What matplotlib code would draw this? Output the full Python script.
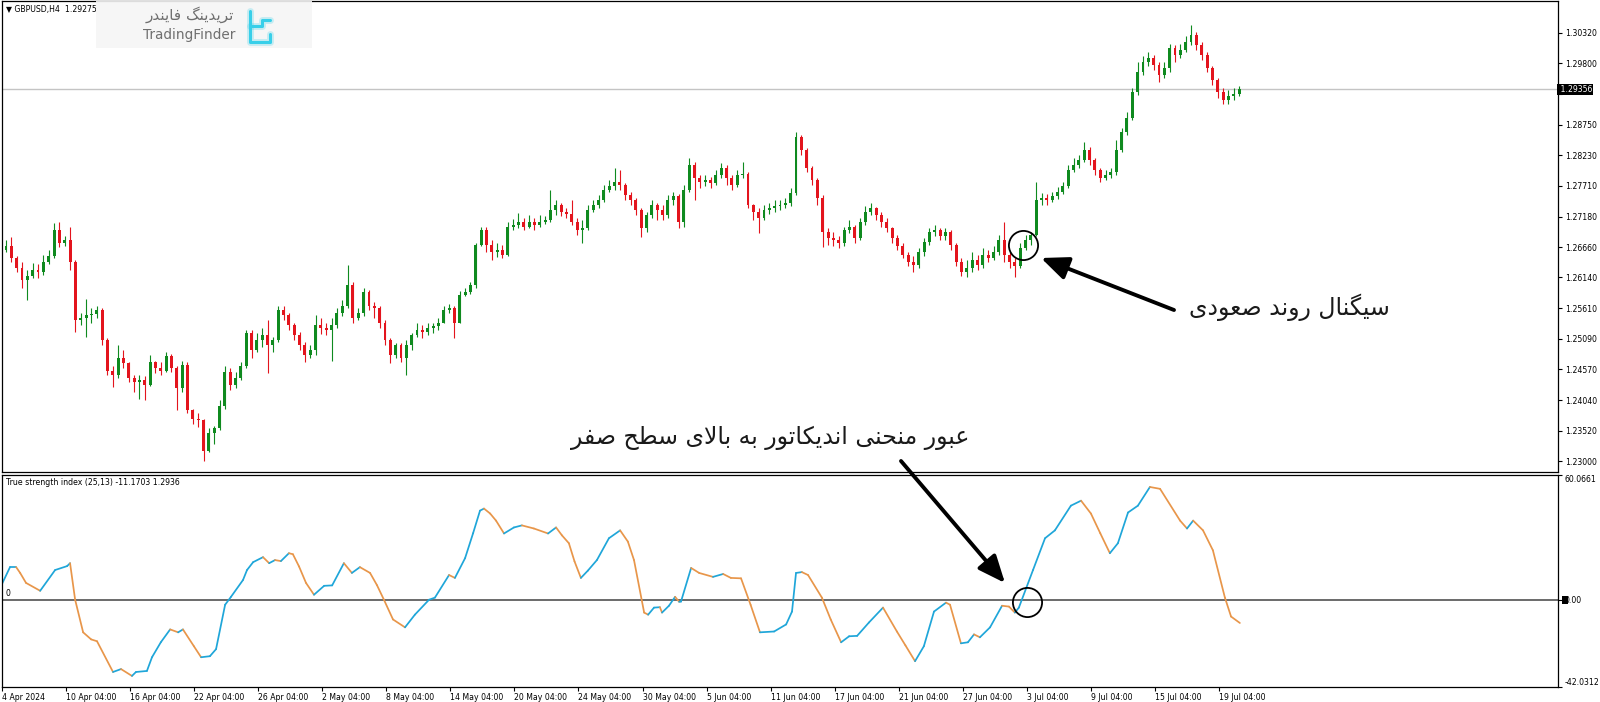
import numpy as np
import matplotlib
matplotlib.use("Agg")
import matplotlib.pyplot as plt
from matplotlib.collections import LineCollection
from matplotlib.patches import FancyArrowPatch, Rectangle
import matplotlib.transforms as mtrans

plt.rcParams['font.family'] = ['DejaVu Sans']

# ---- GBPUSD H4 (one candle = two H4 bars) ----
opens = [1.2650, 1.2661, 1.2667, 1.2647, 1.2630, 1.2609, 1.2616, 1.2626, 1.2623, 1.2640,
         1.2650, 1.2695, 1.2673, 1.2678, 1.2640, 1.2541, 1.2544, 1.2549, 1.2551, 1.2558,
         1.2507, 1.2455, 1.2447, 1.2476, 1.2467, 1.2442, 1.2435, 1.2438, 1.2431, 1.2469,
         1.2459, 1.2455, 1.2479, 1.2459, 1.2425, 1.2464, 1.2387, 1.2373, 1.2370, 1.2318,
         1.2349, 1.2356, 1.2395, 1.2452, 1.2430, 1.2442, 1.2462, 1.2519, 1.2490, 1.2507,
         1.2515, 1.2498, 1.2507, 1.2558, 1.2549, 1.2532, 1.2515, 1.2498, 1.2481, 1.2490,
         1.2532, 1.2527, 1.2524, 1.2532, 1.2554, 1.2566, 1.2601, 1.2544, 1.2554, 1.2589,
         1.2566, 1.2561, 1.2537, 1.2507, 1.2481, 1.2498, 1.2476, 1.2498, 1.2515, 1.2524,
         1.2520, 1.2527, 1.2531, 1.2537, 1.2558, 1.2561, 1.2537, 1.2584, 1.2589, 1.2601,
         1.2669, 1.2695, 1.2669, 1.2657, 1.2661, 1.2652, 1.2701, 1.2703, 1.2708, 1.2701,
         1.2708, 1.2703, 1.2708, 1.2712, 1.2729, 1.2737, 1.2725, 1.2722, 1.2708, 1.2695,
         1.2698, 1.2729, 1.2737, 1.2746, 1.2763, 1.2770, 1.2777, 1.2772, 1.2755, 1.2746,
         1.2729, 1.2698, 1.2720, 1.2737, 1.2729, 1.2720, 1.2746, 1.2753, 1.2708, 1.2763,
         1.2806, 1.2784, 1.2777, 1.2780, 1.2775, 1.2789, 1.2801, 1.2784, 1.2772, 1.2789,
         1.2790, 1.2737, 1.2725, 1.2715, 1.2729, 1.2732, 1.2736, 1.2737, 1.2741, 1.2758,
         1.2854, 1.2832, 1.2801, 1.2780, 1.2749, 1.2691, 1.2681, 1.2678, 1.2673, 1.2695,
         1.2701, 1.2681, 1.2708, 1.2725, 1.2732, 1.2720, 1.2708, 1.2698, 1.2681, 1.2667,
         1.2652, 1.2640, 1.2635, 1.2657, 1.2674, 1.2691, 1.2695, 1.2684, 1.2691, 1.2669,
         1.2640, 1.2623, 1.2630, 1.2643, 1.2635, 1.2652, 1.2647, 1.2657, 1.2678, 1.2652,
         1.2640, 1.2633, 1.2664, 1.2678, 1.2686, 1.2746, 1.2749, 1.2746, 1.2753, 1.2760,
         1.2770, 1.2797, 1.2806, 1.2815, 1.2832, 1.2815, 1.2797, 1.2784, 1.2789, 1.2794,
         1.2832, 1.2862, 1.2886, 1.2931, 1.2965, 1.2982, 1.2989, 1.2977, 1.2960, 1.2972,
         1.3006, 1.2994, 1.3003, 1.3016, 1.3028, 1.3011, 1.2994, 1.2972, 1.2951, 1.2931,
         1.2917, 1.2924, 1.2927]
highs = [1.2669, 1.2678, 1.2683, 1.2650, 1.2640, 1.2626, 1.2638, 1.2637, 1.2652, 1.2661,
         1.2707, 1.2708, 1.2684, 1.2701, 1.2643, 1.2554, 1.2578, 1.2561, 1.2566, 1.2561,
         1.2510, 1.2462, 1.2498, 1.2490, 1.2469, 1.2447, 1.2448, 1.2445, 1.2481, 1.2472,
         1.2469, 1.2486, 1.2483, 1.2462, 1.2472, 1.2469, 1.2390, 1.2383, 1.2373, 1.2356,
         1.2361, 1.2404, 1.2462, 1.2459, 1.2452, 1.2469, 1.2524, 1.2524, 1.2519, 1.2527,
         1.2541, 1.2513, 1.2566, 1.2566, 1.2554, 1.2537, 1.2520, 1.2503, 1.2498, 1.2549,
         1.2544, 1.2537, 1.2544, 1.2561, 1.2575, 1.2635, 1.2606, 1.2561, 1.2596, 1.2592,
         1.2572, 1.2566, 1.2541, 1.2510, 1.2502, 1.2502, 1.2507, 1.2519, 1.2536, 1.2532,
         1.2537, 1.2537, 1.2544, 1.2566, 1.2568, 1.2565, 1.2590, 1.2596, 1.2606, 1.2673,
         1.2701, 1.2700, 1.2678, 1.2673, 1.2669, 1.2708, 1.2713, 1.2724, 1.2715, 1.2720,
         1.2715, 1.2720, 1.2719, 1.2763, 1.2746, 1.2741, 1.2732, 1.2746, 1.2715, 1.2712,
         1.2737, 1.2746, 1.2755, 1.2772, 1.2780, 1.2801, 1.2797, 1.2775, 1.2760, 1.2749,
         1.2732, 1.2725, 1.2746, 1.2741, 1.2737, 1.2755, 1.2760, 1.2756, 1.2772, 1.2818,
         1.2811, 1.2789, 1.2789, 1.2785, 1.2797, 1.2809, 1.2806, 1.2789, 1.2797, 1.2811,
         1.2794, 1.2739, 1.2732, 1.2737, 1.2741, 1.2746, 1.2746, 1.2749, 1.2767, 1.2862,
         1.2857, 1.2835, 1.2804, 1.2784, 1.2755, 1.2698, 1.2691, 1.2684, 1.2701, 1.2712,
         1.2703, 1.2715, 1.2736, 1.2741, 1.2734, 1.2725, 1.2715, 1.2701, 1.2686, 1.2673,
         1.2657, 1.2650, 1.2664, 1.2681, 1.2698, 1.2703, 1.2698, 1.2698, 1.2695, 1.2673,
         1.2647, 1.2643, 1.2657, 1.2652, 1.2664, 1.2661, 1.2667, 1.2686, 1.2708, 1.2657,
         1.2647, 1.2673, 1.2686, 1.2691, 1.2777, 1.2758, 1.2756, 1.2760, 1.2768, 1.2777,
         1.2806, 1.2818, 1.2823, 1.2845, 1.2837, 1.2818, 1.2801, 1.2797, 1.2801, 1.2849,
         1.2869, 1.2896, 1.2938, 1.2982, 1.2992, 1.2999, 1.2994, 1.2982, 1.2982, 1.3013,
         1.3011, 1.3013, 1.3026, 1.3045, 1.3033, 1.3016, 1.2999, 1.2975, 1.2955, 1.2938,
         1.2934, 1.2938, 1.2941]
lows = [1.2647, 1.2657, 1.2640, 1.2623, 1.2596, 1.2575, 1.2613, 1.2613, 1.2619, 1.2637,
        1.2647, 1.2666, 1.2667, 1.2626, 1.2520, 1.2532, 1.2512, 1.2537, 1.2544, 1.2498,
        1.2448, 1.2426, 1.2442, 1.2459, 1.2435, 1.2418, 1.2407, 1.2404, 1.2428, 1.2450,
        1.2447, 1.2452, 1.2452, 1.2387, 1.2418, 1.2382, 1.2363, 1.2359, 1.2301, 1.2315,
        1.2330, 1.2353, 1.2390, 1.2421, 1.2425, 1.2438, 1.2459, 1.2476, 1.2486, 1.2495,
        1.2450, 1.2486, 1.2503, 1.2541, 1.2524, 1.2507, 1.2490, 1.2469, 1.2476, 1.2481,
        1.2517, 1.2515, 1.2472, 1.2527, 1.2548, 1.2561, 1.2537, 1.2541, 1.2548, 1.2558,
        1.2544, 1.2527, 1.2498, 1.2467, 1.2476, 1.2469, 1.2447, 1.2490, 1.2512, 1.2510,
        1.2515, 1.2519, 1.2524, 1.2536, 1.2553, 1.2510, 1.2536, 1.2582, 1.2585, 1.2596,
        1.2667, 1.2657, 1.2643, 1.2649, 1.2647, 1.2650, 1.2695, 1.2698, 1.2695, 1.2698,
        1.2695, 1.2700, 1.2705, 1.2708, 1.2720, 1.2719, 1.2715, 1.2703, 1.2686, 1.2673,
        1.2695, 1.2725, 1.2732, 1.2743, 1.2760, 1.2763, 1.2763, 1.2746, 1.2737, 1.2720,
        1.2683, 1.2691, 1.2715, 1.2712, 1.2712, 1.2715, 1.2737, 1.2698, 1.2701, 1.2760,
        1.2746, 1.2767, 1.2770, 1.2767, 1.2772, 1.2784, 1.2772, 1.2763, 1.2768, 1.2784,
        1.2732, 1.2712, 1.2690, 1.2712, 1.2722, 1.2725, 1.2729, 1.2732, 1.2736, 1.2755,
        1.2823, 1.2794, 1.2772, 1.2737, 1.2666, 1.2669, 1.2667, 1.2664, 1.2667, 1.2690,
        1.2673, 1.2678, 1.2703, 1.2720, 1.2712, 1.2701, 1.2691, 1.2673, 1.2661, 1.2647,
        1.2633, 1.2623, 1.2630, 1.2650, 1.2669, 1.2684, 1.2678, 1.2678, 1.2661, 1.2633,
        1.2616, 1.2614, 1.2623, 1.2626, 1.2630, 1.2640, 1.2643, 1.2652, 1.2640, 1.2630,
        1.2614, 1.2630, 1.2661, 1.2669, 1.2684, 1.2737, 1.2737, 1.2743, 1.2748, 1.2756,
        1.2767, 1.2794, 1.2801, 1.2811, 1.2806, 1.2789, 1.2777, 1.2780, 1.2784, 1.2789,
        1.2828, 1.2857, 1.2883, 1.2926, 1.2960, 1.2975, 1.2968, 1.2948, 1.2955, 1.2965,
        1.2982, 1.2989, 1.2999, 1.3011, 1.3003, 1.2985, 1.2965, 1.2943, 1.2920, 1.2910,
        1.2910, 1.2917, 1.2924]
closes = [1.2661, 1.2667, 1.2647, 1.2630, 1.2609, 1.2616, 1.2626, 1.2623, 1.2640, 1.2650,
          1.2695, 1.2673, 1.2678, 1.2640, 1.2541, 1.2544, 1.2549, 1.2551, 1.2558, 1.2507,
          1.2455, 1.2447, 1.2476, 1.2467, 1.2442, 1.2435, 1.2438, 1.2431, 1.2469, 1.2459,
          1.2455, 1.2479, 1.2459, 1.2425, 1.2464, 1.2387, 1.2373, 1.2370, 1.2318, 1.2349,
          1.2356, 1.2395, 1.2452, 1.2430, 1.2442, 1.2462, 1.2519, 1.2490, 1.2507, 1.2515,
          1.2498, 1.2507, 1.2558, 1.2549, 1.2532, 1.2515, 1.2498, 1.2481, 1.2490, 1.2532,
          1.2527, 1.2524, 1.2532, 1.2554, 1.2566, 1.2601, 1.2544, 1.2554, 1.2589, 1.2566,
          1.2561, 1.2537, 1.2507, 1.2481, 1.2498, 1.2476, 1.2498, 1.2515, 1.2524, 1.2520,
          1.2527, 1.2531, 1.2537, 1.2558, 1.2561, 1.2537, 1.2584, 1.2589, 1.2601, 1.2669,
          1.2695, 1.2669, 1.2657, 1.2661, 1.2652, 1.2701, 1.2703, 1.2708, 1.2701, 1.2708,
          1.2703, 1.2708, 1.2712, 1.2729, 1.2737, 1.2725, 1.2722, 1.2708, 1.2695, 1.2698,
          1.2729, 1.2737, 1.2746, 1.2763, 1.2770, 1.2777, 1.2772, 1.2755, 1.2746, 1.2729,
          1.2698, 1.2720, 1.2737, 1.2729, 1.2720, 1.2746, 1.2753, 1.2708, 1.2763, 1.2806,
          1.2784, 1.2777, 1.2780, 1.2775, 1.2789, 1.2801, 1.2784, 1.2772, 1.2789, 1.2790,
          1.2737, 1.2725, 1.2715, 1.2729, 1.2732, 1.2736, 1.2737, 1.2741, 1.2758, 1.2854,
          1.2832, 1.2801, 1.2780, 1.2749, 1.2691, 1.2681, 1.2678, 1.2673, 1.2695, 1.2701,
          1.2681, 1.2708, 1.2725, 1.2732, 1.2720, 1.2708, 1.2698, 1.2681, 1.2667, 1.2652,
          1.2640, 1.2635, 1.2657, 1.2674, 1.2691, 1.2695, 1.2684, 1.2691, 1.2669, 1.2640,
          1.2623, 1.2630, 1.2643, 1.2635, 1.2652, 1.2647, 1.2657, 1.2678, 1.2652, 1.2640,
          1.2633, 1.2664, 1.2678, 1.2686, 1.2746, 1.2749, 1.2746, 1.2753, 1.2760, 1.2770,
          1.2797, 1.2806, 1.2815, 1.2832, 1.2815, 1.2797, 1.2784, 1.2789, 1.2794, 1.2832,
          1.2862, 1.2886, 1.2931, 1.2965, 1.2982, 1.2989, 1.2977, 1.2960, 1.2972, 1.3006,
          1.2994, 1.3003, 1.3016, 1.3028, 1.3011, 1.2994, 1.2972, 1.2951, 1.2931, 1.2917,
          1.2924, 1.2927, 1.2936]

# True strength index (25,13): H4 bar number -> value
tsi_bar = [0.3, 4.0, 6.3, 7.8, 10.0, 15.3, 20.9, 25.4, 26.5, 28.4, 31.4, 34.4, 36.6, 42.6,
           45.6, 49.7, 51.2, 55.3, 57.2, 60.5, 64.0, 67.0, 68.8, 72.9, 75.6, 78.9, 81.2, 84.6,
           86.8, 91.3, 92.8, 95.1, 98.8, 101.1, 103.3, 105.5, 108.5, 110.0, 112.3, 114.9,
           117.9, 121.7, 124.7, 129.1, 132.1, 135.1, 138.9, 141.5, 144.1, 147.5, 152.0, 155.7,
           161.0, 163.2, 168.5, 170.7, 174.5, 177.5, 180.1, 181.6, 183.9, 186.1, 189.1, 192.8,
           195.8, 200.3, 205.6, 208.6, 210.8, 213.4, 215.5, 217.9, 220.5, 223.9, 228.4, 232.6,
           235.5, 237.8, 241.6, 243.1, 245.3, 247.5, 248.3, 250.9, 253.2, 254.7, 255.4, 259.2,
           262.2, 267.4, 271.2, 274.1, 277.9, 281.5, 285.0, 290.3, 294.8, 297.0, 298.5, 300.7,
           303.0, 308.2, 311.5, 315.4, 318.4, 321.4, 325.8, 331.1, 336.3, 339.5, 343.1, 346.4,
           350.2, 354.7, 356.2, 360.3, 362.9, 365.2, 367.4, 371.2, 375.7, 378.3, 380.5, 382.0,
           387.3, 391.8, 395.5, 401.5, 405.3, 409.0, 412.5, 416.1, 419.1, 422.9, 426.6, 431.1,
           434.9, 442.4, 445.0, 447.3, 451.0, 454.7, 459.2, 461.5, 464.8]
tsi_val = [5.7, 15.7, 15.7, 12.9, 8.1, 4.3, 14.3, 16.2, 17.6, 0.0, -15.7, -19.1, -20.0, -34.8,
           -33.4, -36.7, -34.8, -34.3, -27.7, -20.5, -14.3, -15.7, -14.3, -22.4, -27.7, -27.2,
           -23.8, -2.4, 1.4, 9.5, 14.3, 18.1, 20.5, 17.6, 19.1, 18.6, 22.4, 21.9, 16.0, 8.1,
           2.4, 6.7, 6.9, 17.6, 12.9, 15.7, 12.9, 7.0, 0.0, -9.5, -13.3, -7.2, 0.0, 1.0, 11.9,
           10.5, 20.0, 32.0, 42.9, 43.9, 41.5, 38.1, 31.9, 34.8, 35.8, 34.3, 31.9, 34.8, 31.0,
           27.2, 18.5, 10.5, 14.0, 19.1, 29.6, 33.4, 28.0, 19.1, -6.2, -7.2, -3.8, -3.6, -6.2,
           -2.9, 1.4, -1.0, -0.9, 15.3, 12.9, 11.0, 12.4, 10.5, 10.3, -2.5, -15.7, -15.3,
           -11.9, -5.7, 12.9, 13.3, 11.9, 1.0, -9.5, -20.5, -17.6, -17.4, -11.0, -3.8, -15.3,
           -22.0, -29.6, -22.4, -5.7, -1.4, -2.4, -21.0, -20.5, -16.7, -18.1, -13.3, -2.9,
           -3.3, -6.2, -3.8, 14.3, 29.6, 33.4, 45.3, 47.7, 41.5, 32.0, 22.4, 27.2, 42.0, 45.3,
           54.3, 53.4, 38.1, 34.3, 38.1, 33.4, 23.8, 1.0, -8.1, -11.2]

price_ticks = [1.30320, 1.29800, 1.29280, 1.28750, 1.28230, 1.27710, 1.27180, 1.26660,
               1.26140, 1.25610, 1.25090, 1.24570, 1.24040, 1.23520, 1.23000]
last_price = 1.29356
date_bars = [1, 25, 49, 73, 97, 121, 145, 169, 193, 217, 241, 265, 289, 313, 337, 361,
             385, 409, 433, 457]
date_labels = ["4 Apr 2024", "10 Apr 04:00", "16 Apr 04:00", "22 Apr 04:00", "26 Apr 04:00",
               "2 May 04:00", "8 May 04:00", "14 May 04:00", "20 May 04:00", "24 May 04:00",
               "30 May 04:00", "5 Jun 04:00", "11 Jun 04:00", "17 Jun 04:00", "21 Jun 04:00",
               "27 Jun 04:00", "3 Jul 04:00", "9 Jul 04:00", "15 Jul 04:00", "19 Jul 04:00"]
assert len(opens) == len(highs) == len(lows) == len(closes)
assert len(tsi_bar) == len(tsi_val)

# ---- minimal Persian shaping (matplotlib has no bidi / joining) ----
FORMS = {
    'ا': ('\uFE8D', '\uFE8E', None, None), 'ب': ('\uFE8F', '\uFE90', '\uFE91', '\uFE92'),
    'ت': ('\uFE95', '\uFE96', '\uFE97', '\uFE98'), 'ح': ('\uFEA1', '\uFEA2', '\uFEA3', '\uFEA4'),
    'د': ('\uFEA9', '\uFEAA', None, None), 'ر': ('\uFEAD', '\uFEAE', None, None),
    'س': ('\uFEB1', '\uFEB2', '\uFEB3', '\uFEB4'), 'ص': ('\uFEB9', '\uFEBA', '\uFEBB', '\uFEBC'),
    'ط': ('\uFEC1', '\uFEC2', '\uFEC3', '\uFEC4'), 'ع': ('\uFEC9', '\uFECA', '\uFECB', '\uFECC'),
    'ف': ('\uFED1', '\uFED2', '\uFED3', '\uFED4'), 'ل': ('\uFEDD', '\uFEDE', '\uFEDF', '\uFEE0'),
    'م': ('\uFEE1', '\uFEE2', '\uFEE3', '\uFEE4'), 'ن': ('\uFEE5', '\uFEE6', '\uFEE7', '\uFEE8'),
    'ه': ('\uFEE9', '\uFEEA', '\uFEEB', '\uFEEC'), 'و': ('\uFEED', '\uFEEE', None, None),
    '\u06A9': ('\uFB8E', '\uFB8F', '\uFB90', '\uFB91'), '\u06AF': ('\uFB92', '\uFB93', '\uFB94', '\uFB95'),
    '\u06CC': ('\uFBFC', '\uFBFD', '\uFBFE', '\uFBFF'),
}
FORMS['\u0643'] = FORMS['\u06A9']; FORMS['\u064A'] = FORMS['\u06CC']

def dual(ch): return ch in FORMS and FORMS[ch][2] is not None

def shape(txt):
    out = []; i = 0
    while i < len(txt):
        ch = txt[i]
        if ch not in FORMS:
            out.append(ch); i += 1; continue
        prev = i > 0 and dual(txt[i-1])
        nxt = i+1 < len(txt) and txt[i+1] in FORMS
        if ch == 'ل' and i+1 < len(txt) and txt[i+1] == 'ا':
            out.append('\uFEFC' if prev else '\uFEFB'); i += 2; continue
        iso, fin, ini, med = FORMS[ch]
        if dual(ch) and nxt:
            out.append(med if prev else ini)
        else:
            out.append(fin if prev else iso)
        i += 1
    return ''.join(reversed(out))

# ---- figure ----
W, H = 1600, 702
fig = plt.figure(figsize=(W/100, H/100), dpi=100)
fx = lambda x: x/W
fy = lambda y: 1 - y/H
def px_axes(x0, y0, x1, y1):
    return fig.add_axes([fx(x0), fy(y1), (x1-x0)/W, (y1-y0)/H])

ax = px_axes(2, 1, 1558, 472)
ax2 = px_axes(2, 475, 1558, 687)
for a in (ax, ax2):
    a.set_xlim(1.0, 584.0)
    for s in a.spines.values():
        s.set_color('black'); s.set_linewidth(0.9)

o = np.array(opens); h = np.array(highs); l = np.array(lows); c = np.array(closes)
xc = 2*np.arange(len(c)) + 0.5
up = c >= o
cols = np.where(up, '#0f8a1f', '#e3141d')
ax.vlines(xc, l, h, colors=cols, lw=0.8)
ax.bar(xc, np.maximum(np.abs(c-o), 0.00008), bottom=np.minimum(o, c), width=1.1,
       color=cols, linewidth=0)
ax.axhline(last_price, color='#c4c4c4', lw=1.0, zorder=0)
ax.set_ylim(1.22816, 1.30863)
ax.set_xticks([])
ax.yaxis.tick_right()
ax.set_yticks(price_ticks)
# 1.29280 sits under the current-price marker, as in the terminal
ax.set_yticklabels(['' if abs(v - 1.2928) < 1e-6 else '%.5f' % v for v in price_ticks])
ax.tick_params(axis='y', direction='out', length=3, width=0.8, labelsize=5.6, pad=2)
blend = mtrans.blended_transform_factory(ax.transAxes, ax.transData)
ax.text(1.0, last_price, ' 1.29356', transform=blend, fontsize=5.6, color='white',
        ha='left', va='center', bbox=dict(facecolor='black', edgecolor='none', pad=0.7))
ax.annotate('\u25BC GBPUSD,H4  1.29275', xy=(0, 1), xycoords='axes fraction',
            xytext=(3, -3), textcoords='offset points', fontsize=5.6, va='top', ha='left')

# TSI sub-window
tb = np.array(tsi_bar); tv = np.array(tsi_val)
seg = np.stack([np.column_stack([tb[:-1], tv[:-1]]), np.column_stack([tb[1:], tv[1:]])], axis=1)
seg_cols = np.where(np.diff(tv) >= 0, '#1fa6d9', '#e8964a')
ax2.add_collection(LineCollection(seg, colors=seg_cols, linewidths=1.25, capstyle='round',
                                  joinstyle='round'))
ax2.axhline(0, color='#6a6a6a', lw=1.4, zorder=0)
ax2.set_ylim(-42.0312, 60.0661)
ax2.yaxis.tick_right()
ax2.set_yticks([60.0661, 0.0, -42.0312])
ax2.set_yticklabels(['60.0661', '0.00', '-42.0312'])
ax2.tick_params(axis='y', direction='out', length=3, width=0.8, labelsize=5.6, pad=2)
tl = ax2.get_yticklabels()
tl[0].set_va('top'); tl[2].set_va('bottom')
ax2.set_xticks(date_bars)
ax2.set_xticklabels(date_labels, ha='left')
ax2.tick_params(axis='x', direction='out', length=3, width=0.8, labelsize=5.6, pad=1)
ax2.annotate('True strength index (25,13) -11.1703 1.2936', xy=(0, 1), xycoords='axes fraction',
             xytext=(3, -2), textcoords='offset points', fontsize=5.6, va='top', ha='left')
b2 = mtrans.blended_transform_factory(ax2.transAxes, ax2.transData)
ax2.text(0.002, 0.8, '0', transform=b2, fontsize=5.6, va='bottom', ha='left')
fig.patches.append(Rectangle((fx(1562), fy(604)), 6/W, 8/H, transform=fig.transFigure,
                             facecolor='black', edgecolor='none', zorder=5))

# signal circles
ax.plot([383.6], [1.2669], 'o', ms=21, mfc='none', mec='black', mew=1.3, clip_on=False)
ax2.plot([385.0], [-1.0], 'o', ms=21, mfc='none', mec='black', mew=1.3, clip_on=False)

# arrows + captions
for (xa, ya), (xb, yb) in [((1174, 310), (1041, 258)), ((901, 461), (1005, 583))]:
    fig.patches.append(FancyArrowPatch((fx(xa), fy(ya)), (fx(xb), fy(yb)), transform=fig.transFigure,
                                       arrowstyle='-|>,head_length=0.75,head_width=0.32',
                                       mutation_scale=22, lw=2.8, color='black',
                                       shrinkA=0, shrinkB=0))
fig.text(fx(1289), fy(307), shape('سیگنال روند صعودی'), fontsize=17, ha='center',
         va='center', color='#1a1a1a')
fig.text(fx(770), fy(438), shape('عبور منحنی اندیکاتور به بالای سطح صفر'), fontsize=17,
         ha='center', va='center', color='#1a1a1a')

# TradingFinder watermark
fig.patches.append(Rectangle((fx(96), fy(48)), 216/W, 47/H, transform=fig.transFigure,
                             facecolor='#f5f5f5', edgecolor='none', alpha=0.9))
fig.text(fx(189), fy(35), 'TradingFinder', fontsize=9.8, color='#6f6f6f', ha='center', va='center')
fig.text(fx(190), fy(15), shape('تریدینگ فایندر'), fontsize=11, color='#6f6f6f',
         ha='center', va='center')
for lw_, al in [(5, 0.25), (2.2, 1.0)]:
    fig.lines.append(plt.Line2D([fx(250), fx(250), fx(270), fx(270)],
                                [fy(11), fy(42), fy(42), fy(34)], transform=fig.transFigure,
                                color='#38cfe9', lw=lw_, alpha=al, solid_capstyle='round'))
    fig.lines.append(plt.Line2D([fx(250), fx(262), fx(262), fx(270)], [fy(26), fy(26), fy(20), fy(20)],
                                transform=fig.transFigure, color='#38cfe9', lw=lw_, alpha=al,
                                solid_capstyle='round'))

fig.savefig('out.png', dpi=100)
